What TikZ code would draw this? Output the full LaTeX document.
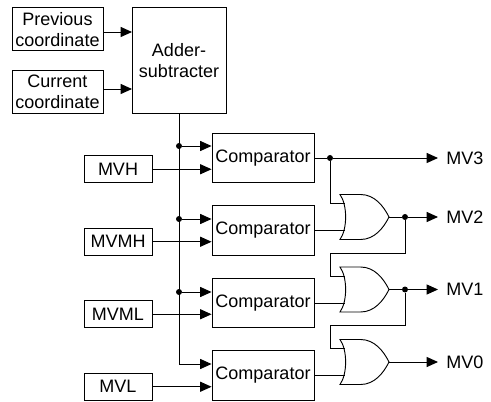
\documentclass[tikz,border=0pt]{standalone}
\usepackage{fontspec}
\setmainfont{Liberation Sans}
\usepackage{tikz}
\usetikzlibrary{arrows.meta}

\tikzset{
  block/.style={draw, line width=0.7pt, inner sep=0pt, align=center, font=\fontsize{13.5}{16}\selectfont},
  wire/.style={line width=0.7pt},
  arrow/.style={wire, -{Triangle[length=8.5pt,width=7.5pt]}},
  dot/.style={circle, fill=black, inner sep=0pt, minimum size=4.5pt},
  outlabel/.style={anchor=west, inner sep=0pt, inner xsep=6pt, font=\fontsize{13.5}{16}\selectfont},
  orgate/.pic={
    \draw[wire, line join=miter] (-24.5,-22.5) .. controls (-17,-12) and (-17,12) .. (-24.5,22.5)
      -- (-4,22.5) .. controls (10,22.5) and (19,11) .. (24.5,0)
      .. controls (19,-11) and (10,-22.5) .. (-4,-22.5) -- cycle;
    \coordinate (-in1) at (-19.5,-13.5);
    \coordinate (-in2) at (-19.5,13.5);
    \coordinate (-out) at (24.5,0);
  }
}

\begin{document}
\begin{tikzpicture}[x=0.75pt, y=-0.75pt]
  \useasboundingbox (0,0) rectangle (491,402);

  % inputs and adder
  \node[block, minimum width=68.25pt, minimum height=32.5pt] (prev) at (57.5,29.25) {Previous\\coordinate};
  \node[block, minimum width=68.25pt, minimum height=32.5pt] (curr) at (57.5,92) {Current\\coordinate};
  \node[block, minimum width=70.5pt, minimum height=79.5pt] (adder) at (179,60.5) {Adder-\\subtracter};

  % comparators
  \node[block, minimum width=76.5pt, minimum height=37pt] (cmpA) at (263,158) {Comparator};
  \node[block, minimum width=76.5pt, minimum height=37pt] (cmpB) at (263,230.5) {Comparator};
  \node[block, minimum width=76.5pt, minimum height=37pt] (cmpC) at (263,303) {Comparator};
  \node[block, minimum width=76.5pt, minimum height=37pt] (cmpD) at (263,375.5) {Comparator};

  % thresholds
  \node[block, minimum width=51pt, minimum height=20.5pt] (mvh) at (118,169.25) {MVH};
  \node[block, minimum width=51pt, minimum height=20.5pt] (mvmh) at (118,241.75) {MVMH};
  \node[block, minimum width=51pt, minimum height=20.5pt] (mvml) at (118,314.25) {MVML};
  \node[block, minimum width=51pt, minimum height=20.5pt] (mvl) at (118,386.75) {MVL};

  % or gates
  \pic (orA) at (364.5,217) {orgate};
  \pic (orB) at (364.5,289.5) {orgate};
  \pic (orC) at (364.5,362) {orgate};

  % outputs
  \node[outlabel] (mv3) at (438,158) {MV3};
  \node[outlabel] (mv2) at (438,217) {MV2};
  \node[outlabel] (mv1) at (438,289.5) {MV1};
  \node[outlabel] (mv0) at (438,362) {MV0};

  % branch points
  \node[dot] (busA) at (179,146) {};
  \node[dot] (busB) at (179,219) {};
  \node[dot] (busC) at (179,292) {};
  \coordinate (busD) at (179,364);
  \node[dot] (outA) at (330,158) {};
  \node[dot] (outB) at (405,217) {};
  \node[dot] (outC) at (405,289.5) {};
  \coordinate (backB) at (330,253);
  \coordinate (backC) at (330,325);
  \coordinate (prevIn) at (132,32);
  \coordinate (currIn) at (132,89);

  % adder inputs
  \draw[arrow] (prev.east |- prevIn) -- (prevIn);
  \draw[arrow] (curr.east |- currIn) -- (currIn);

  % bus
  \draw[arrow] (adder.south) -- (busD) -- (busD -| cmpD.west);
  \draw[arrow] (busA) -- (busA -| cmpA.west);
  \draw[arrow] (busB) -- (busB -| cmpB.west);
  \draw[arrow] (busC) -- (busC -| cmpC.west);
  \draw[arrow] (mvh.east) -- (mvh.east -| cmpA.west);
  \draw[arrow] (mvmh.east) -- (mvmh.east -| cmpB.west);
  \draw[arrow] (mvml.east) -- (mvml.east -| cmpC.west);
  \draw[arrow] (mvl.east) -- (mvl.east -| cmpD.west);

  % comparator outputs
  \draw[wire] (cmpA.east) -- (outA);
  \draw[arrow] (outA) -- (mv3.west);
  \draw[wire] (outA) |- (orA-in1);
  \draw[wire] (cmpB.east) -- (orA-in2);
  \draw[wire] (orA-out) -- (outB);
  \draw[arrow] (outB) -- (mv2.west);
  \draw[wire] (outB) |- (backB) |- (orB-in1);
  \draw[wire] (cmpC.east) -- (orB-in2);
  \draw[wire] (orB-out) -- (outC);
  \draw[arrow] (outC) -- (mv1.west);
  \draw[wire] (outC) |- (backC) |- (orC-in1);
  \draw[wire] (cmpD.east) -- (orC-in2);
  \draw[arrow] (orC-out) -- (mv0.west);
\end{tikzpicture}
\end{document}
